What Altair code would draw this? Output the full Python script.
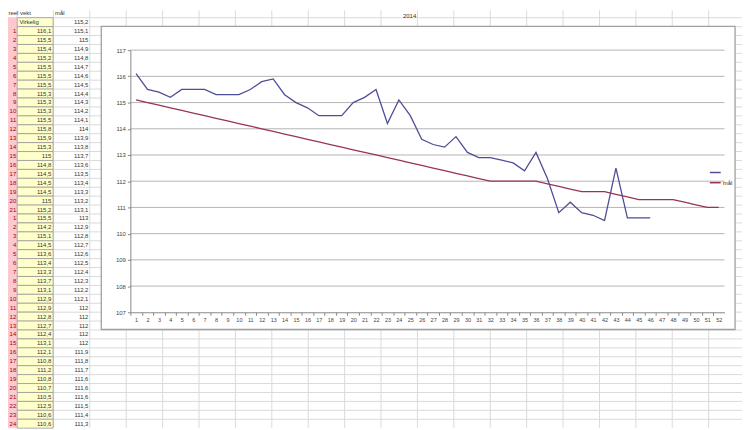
import altair as alt
import pandas as pd

# ---------------- data ----------------
virkelig = [116.1, 115.5, 115.4, 115.2, 115.5, 115.5, 115.5, 115.3, 115.3, 115.3,
            115.5, 115.8, 115.9, 115.3, 115.0, 114.8, 114.5, 114.5, 114.5, 115.0,
            115.2, 115.5, 114.2, 115.1, 114.5, 113.6, 113.4, 113.3, 113.7, 113.1,
            112.9, 112.9, 112.8, 112.7, 112.4, 113.1, 112.1, 110.8, 111.2, 110.8,
            110.7, 110.5, 112.5, 110.6, 110.6, 110.6]
mal = [115.1, 115.0, 114.9, 114.8, 114.7, 114.6, 114.5, 114.4, 114.3, 114.2,
       114.1, 114.0, 113.9, 113.8, 113.7, 113.6, 113.5, 113.4, 113.3, 113.2,
       113.1, 113.0, 112.9, 112.8, 112.7, 112.6, 112.5, 112.4, 112.3, 112.2,
       112.1, 112.0, 112.0, 112.0, 112.0, 112.0, 111.9, 111.8, 111.7, 111.6,
       111.6, 111.6, 111.5, 111.4, 111.3, 111.3, 111.3, 111.3, 111.2, 111.1,
       111.0, 111.0]
mal_start = 115.2
row_labels = [str(i) for i in range(1, 22)] + [str(i) for i in range(1, 25)]
y_ticks = list(range(107, 118))
x_ticks = list(range(1, 53))
series_names = [" ", "mål"]
table_headers = ["reel vekt", "Virkelig", "mål"]
chart_title = "2014"


def fmt(v):
    s = f"{v:.1f}"
    if s.endswith(".0"):
        s = s[:-2]
    return s.replace(".", ",")


# ---------------- layout (svg pixels) ----------------
W, H = 742, 422
OX, OY = 123.7, 40.3          # plot area origin
PW, PH = 600.6, 265.0         # plot area size
FONT = "Liberation Sans"
BLUE = "#4E4E96"
RED = "#993355"


def px(x):
    return x - OX


def py(y):
    return y - OY


ROW_TOP, ROW_PITCH = -1.5, 9.02
row_scale = alt.Scale(domain=[0, 47], range=[py(ROW_TOP), py(ROW_TOP + 47 * ROW_PITCH)],
                      nice=False, zero=False)
col_scale = alt.Scale(domain=[-1, 19], range=[px(9.1), px(9.1 + 20 * 36.8)],
                      nice=False, zero=False)
xs = alt.Scale(domain=[0.5, 52.5], nice=False, zero=False)
ys = alt.Scale(domain=[107, 117], nice=False, zero=False)

one = pd.DataFrame({"a": [0]})

# ---------------- spreadsheet background ----------------
hl = alt.Chart(pd.DataFrame({"k": list(range(1, 47))})).mark_rule(
    color="#DADADA", strokeWidth=1).encode(
    y=alt.Y("k:Q", scale=row_scale, axis=None),
    x=alt.value(px(0)), x2=alt.value(px(W)))

vl = alt.Chart(pd.DataFrame({"j": list(range(-1, 20))})).mark_rule(
    color="#DADADA", strokeWidth=1).encode(
    x=alt.X("j:Q", scale=col_scale, axis=None),
    y=alt.value(py(0)), y2=alt.value(py(H)))

cells = pd.DataFrame({"k": list(range(1, 47)), "k2": list(range(2, 48))})
pink = alt.Chart(cells).mark_rect(color="#FFC7CE").encode(
    y=alt.Y("k:Q", scale=row_scale, axis=None), y2="k2:Q",
    x=alt.value(px(0)), x2=alt.value(px(9.3)))
yellow = alt.Chart(cells).mark_rect(color="#FFFFCC", stroke="#9A9A9A", strokeWidth=0.8).encode(
    y=alt.Y("k:Q", scale=row_scale, axis=None), y2="k2:Q",
    x=alt.value(px(9.3)), x2=alt.value(px(45.6)))

tbl = pd.DataFrame({
    "k": [i + 2.5 for i in range(len(row_labels))],
    "lab": row_labels,
    "virk": [fmt(v) for v in virkelig[:len(row_labels)]],
    "mal": [fmt(v) for v in mal[:len(row_labels)]],
})


def col_text(field, xpos, color="#333333", align="right"):
    return alt.Chart(tbl).mark_text(font=FONT, fontSize=6, align=align, baseline="middle",
                                    color=color).encode(
        y=alt.Y("k:Q", scale=row_scale, axis=None),
        x=alt.value(px(xpos)),
        text=f"{field}:N")


t_lab = col_text("lab", 8.3, color="#9C0006")
t_virk = col_text("virk", 43.8)
t_mal = col_text("mal", 81.3)

hdr = pd.DataFrame({"k": [0.5, 1.5, 0.5, 1.5],
                    "t": table_headers + [fmt(mal_start)]})


def hdr_text(i, xpos, align):
    return alt.Chart(hdr.iloc[[i]]).mark_text(font=FONT, fontSize=6, align=align,
                                             baseline="middle", color="#333333").encode(
        y=alt.Y("k:Q", scale=row_scale, axis=None),
        x=alt.value(px(xpos)),
        text="t:N")


h_reel = hdr_text(0, 0.5, "left")
h_virk = hdr_text(1, 11.5, "left")
h_mal = hdr_text(2, 47.5, "left")
h_start = hdr_text(3, 81.3, "right")

h_title = alt.Chart(pd.DataFrame({"t": [chart_title]})).mark_text(
    font=FONT, fontSize=6, align="center", baseline="middle", color="#333333").encode(
    x=alt.value(px(406)), y=alt.value(py(5.5)), text="t:N")

# ---------------- chart box ----------------
box = alt.Chart(one).mark_rect(fill="white", stroke="#A0A0A0", strokeWidth=1.3).encode(
    x=alt.value(px(94.3)), x2=alt.value(px(735)), y=alt.value(py(16.3)), y2=alt.value(py(322.7)))

# ---------------- plot ----------------
grid = alt.Chart(pd.DataFrame({"v": y_ticks[1:]})).mark_rule(
    color="#B4B4B4", strokeWidth=1).encode(
    y=alt.Y("v:Q", scale=ys, axis=None),
    x=alt.X(datum=0.5, type="quantitative", scale=xs, axis=None),
    x2=alt.X2(datum=52.5))

long = pd.DataFrame(
    [{"week": i + 1, "value": v, "series": series_names[0]} for i, v in enumerate(virkelig)]
    + [{"week": i + 1, "value": v, "series": series_names[1]} for i, v in enumerate(mal)])

half = PW / 52 / 2

lines = alt.Chart(long).mark_line(strokeWidth=1.3).encode(
    x=alt.X("week:Q", scale=xs,
            axis=alt.Axis(values=x_ticks, title=None, grid=False, orient="bottom",
                          labelFontSize=5.5, labelFont=FONT,
                          labelColor="#444444", tickSize=3, tickColor="#888888",
                          domainColor="#888888", labelPadding=2, labelAngle=0,
                          tickOffset=-half, labelOffset=half, labelFlush=False,
                          labelOverlap=False, zindex=1)),
    y=alt.Y("value:Q", scale=ys,
            axis=alt.Axis(values=y_ticks, title=None, grid=False, orient="left",
                          labelFontSize=6, labelFont=FONT,
                          labelColor="#444444", tickSize=3, tickColor="#888888",
                          domainColor="#888888", labelPadding=2, format="d",
                          labelOverlap=False, zindex=1)),
    color=alt.Color("series:N",
                    scale=alt.Scale(domain=series_names, range=[BLUE, RED]),
                    legend=alt.Legend(title=None, orient="none", legendX=px(708.5),
                                      legendY=py(157.5), symbolType="stroke", symbolSize=121,
                                      symbolStrokeWidth=1.5, labelFontSize=6,
                                      labelFont=FONT, labelColor="#333333",
                                      rowPadding=0.3, labelOffset=1, zindex=1)),
    order="week:Q")

chart = alt.layer(
    hl, vl, pink, yellow, t_lab, t_virk, t_mal,
    h_reel, h_virk, h_mal, h_start, h_title,
    box, grid, lines
).resolve_scale(x="independent", y="independent").properties(
    width=PW, height=PH,
    padding={"left": OX, "top": OY, "right": W - OX - PW, "bottom": H - OY - PH},
    autosize=alt.AutoSizeParams(type="none"),
    background="white",
).configure_view(stroke=None)

chart.save("out.html", embed_options={"renderer": "svg", "actions": False})
